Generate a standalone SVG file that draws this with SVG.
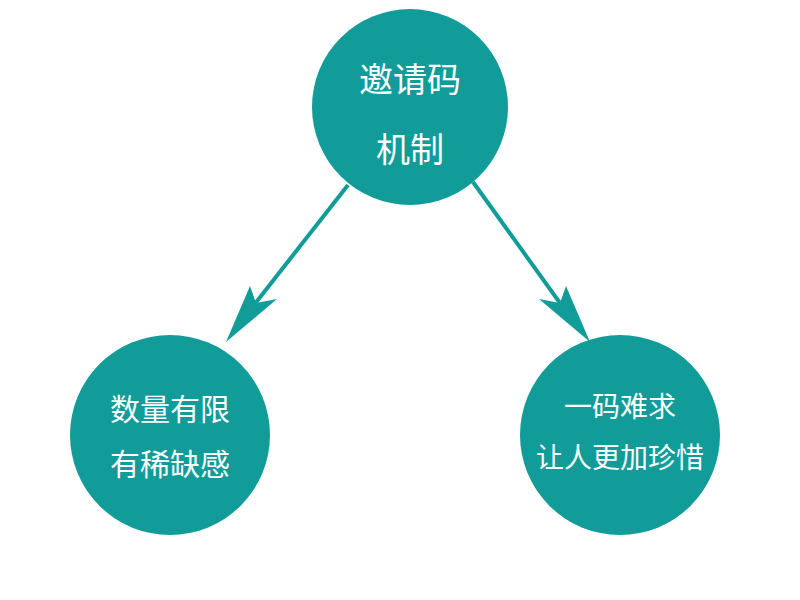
<svg xmlns="http://www.w3.org/2000/svg" width="800" height="600" viewBox="0 0 800 600">
<style>
.n{fill:#119c99}
.t{fill:#fff;font-family:"Noto Sans CJK SC","Noto Sans",sans-serif;text-anchor:middle}
.c{stroke:#119c99;stroke-width:4;fill:none}
.h{fill:#119c99}
</style>
<rect width="800" height="600" fill="#fff"/>
<g id="connectors">
<line class="c" x1="348" y1="185" x2="250" y2="310"/>
<path class="h" d="M226,342 L250,286 L256,303 L277,299 Z"/>
<line class="c" x1="473" y1="182" x2="565" y2="310"/>
<path class="h" d="M590,342 L566,286 L560,303 L539,299 Z"/>
</g>
<g id="top"><circle class="n" cx="410" cy="107" r="98"/>
<text class="t" x="410" y="92" font-size="34">邀请码</text>
<text class="t" x="410" y="162" font-size="34">机制</text></g>
<g id="left"><circle class="n" cx="170" cy="435" r="100"/>
<text class="t" x="170" y="420" font-size="30">数量有限</text>
<text class="t" x="170" y="475" font-size="30">有稀缺感</text></g>
<g id="right"><circle class="n" cx="620" cy="435" r="100"/>
<text class="t" x="620" y="417" font-size="28">一码难求</text>
<text class="t" x="620" y="468" font-size="28">让人更加珍惜</text></g>
</svg>
